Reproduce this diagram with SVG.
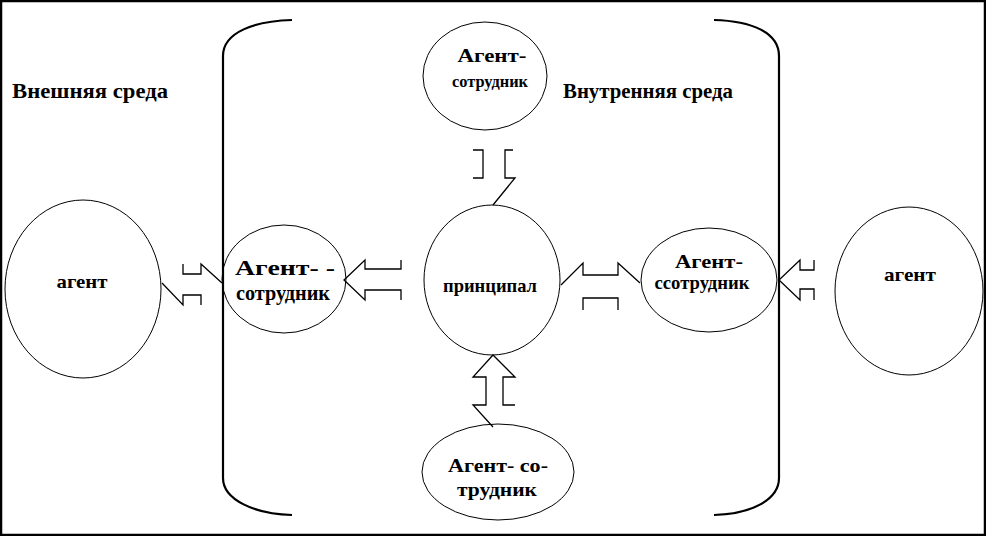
<svg xmlns="http://www.w3.org/2000/svg" width="986" height="536" viewBox="0 0 986 536">
<style>
.c{fill:none;stroke:#000;stroke-width:1}
.b{fill:none;stroke:#000;stroke-width:2.2}
.a{fill:none;stroke:#000;stroke-width:1.3;stroke-linejoin:miter}
text{font-family:"Liberation Serif","Times New Roman",serif;font-weight:bold;fill:#000;text-anchor:middle}
</style>
<rect x="0" y="0" width="986" height="536" fill="#fff"/>
<rect x="1" y="1" width="984" height="534" fill="none" stroke="#000" stroke-width="2.5"/>
<g id="bracket">
<path class="b" d="M292,20 C255,21 223,32 223,56 L223,478 C223,500 255,514 292,515"/>
<path class="b" d="M714,20 C751,21 779,32 779,56 L779,478 C779,500 751,514 714,515"/>
</g>
<g id="labels">
<text x="90" y="98" font-size="21" textLength="156" lengthAdjust="spacingAndGlyphs">Внешняя среда</text>
<text x="648" y="98" font-size="21" textLength="170" lengthAdjust="spacingAndGlyphs">Внутренняя среда</text>
</g>
<g id="agent-left">
<ellipse class="c" cx="83" cy="289" rx="78" ry="89"/>
<text x="82" y="288" font-size="19" textLength="51" lengthAdjust="spacingAndGlyphs">агент</text>
</g>
<g id="employee-left">
<ellipse class="c" cx="284" cy="279" rx="62" ry="54"/>
<text x="285" y="275" font-size="20" textLength="100" lengthAdjust="spacingAndGlyphs">Агент- -</text>
<text x="283" y="300" font-size="20" textLength="94" lengthAdjust="spacingAndGlyphs">сотрудник</text>
</g>
<g id="principal">
<ellipse class="c" cx="492" cy="280" rx="68" ry="75"/>
<text x="490" y="292" font-size="19" textLength="94" lengthAdjust="spacingAndGlyphs">принципал</text>
</g>
<g id="employee-top">
<ellipse class="c" cx="485" cy="76" rx="62" ry="54"/>
<text x="492" y="62" font-size="19" textLength="69" lengthAdjust="spacingAndGlyphs">Агент-</text>
<text x="490" y="87" font-size="17" textLength="76" lengthAdjust="spacingAndGlyphs">сотрудник</text>
</g>
<g id="employee-right">
<ellipse class="c" cx="709" cy="280" rx="68" ry="52"/>
<text x="709" y="268" font-size="19" textLength="68" lengthAdjust="spacingAndGlyphs">Агент-</text>
<text x="702" y="289" font-size="18" textLength="95" lengthAdjust="spacingAndGlyphs">ссотрудник</text>
</g>
<g id="agent-right">
<ellipse class="c" cx="909" cy="291" rx="74" ry="84"/>
<text x="910" y="281" font-size="19" textLength="52" lengthAdjust="spacingAndGlyphs">агент</text>
</g>
<g id="employee-bottom">
<ellipse class="c" cx="498" cy="472" rx="76" ry="48"/>
<text x="498" y="472" font-size="19" textLength="100" lengthAdjust="spacingAndGlyphs">Агент- со-</text>
<text x="497" y="496" font-size="19" textLength="80" lengthAdjust="spacingAndGlyphs">трудник</text>
</g>
<g id="connectors">
<polyline class="a" points="183,264 183,274 201,274 201,264 222,283"/>
<polyline class="a" points="162,283 183,305 183,295 201,295 201,305"/>
<polyline class="a" points="401,260 401,269 365,269 365,260 344,280 365,300 365,290 401,290 401,300"/>
<polyline class="a" points="561,285 583,263 583,275 618,275 618,263 640,283"/>
<polyline class="a" points="583,310 583,298 618,298 618,310"/>
<polyline class="a" points="814,260 814,270 800,270 800,260 779,280 800,300 800,289 814,289 814,300"/>
<polyline class="a" points="473,150 483,150 483,178 473,178"/>
<polyline class="a" points="513,150 505,150 505,178 515,178 493,205"/>
<polyline class="a" points="493,427 473,405 486,405 486,377 473,377 493,355 515,377 503,377 503,405 515,405"/>
</g>
</svg>
